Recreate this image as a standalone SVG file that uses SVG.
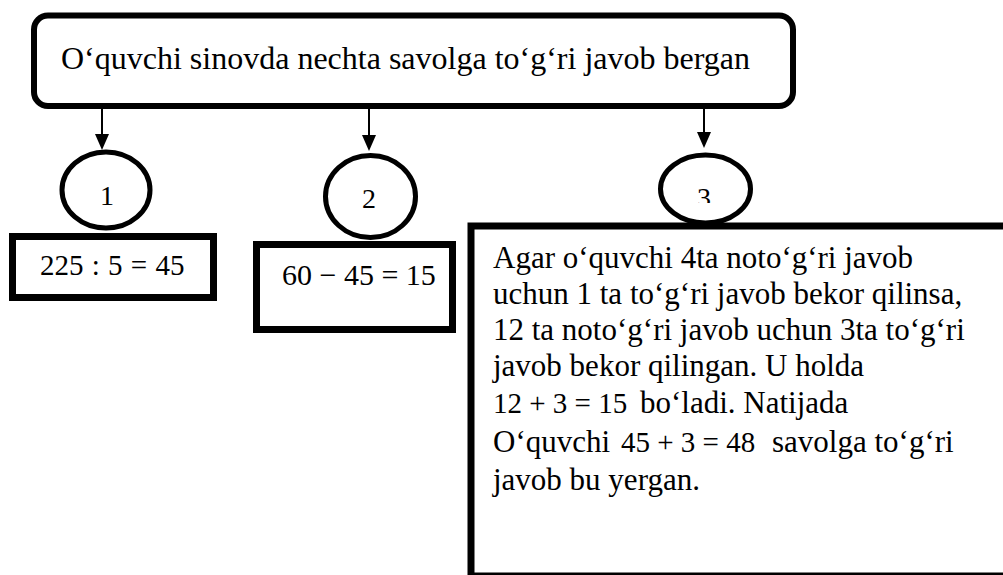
<svg xmlns="http://www.w3.org/2000/svg" width="1003" height="575" viewBox="0 0 1003 575">
<style>
.node{fill:#fff;stroke:#000}
.conn{stroke:#000;stroke-width:2;fill:none}
</style>
<defs>
<clipPath id="clip3"><rect x="650" y="150" width="110" height="53"/></clipPath>
</defs>
<rect width="1003" height="575" fill="#fff"/>
<g id="top">
<rect class="node" x="34" y="15.5" width="759" height="90.5" rx="14" stroke-width="6"/>
<text font-family="Liberation Serif" x="61" y="69" font-size="32">O‘quvchi sinovda nechta savolga to‘g‘ri javob bergan</text>
</g>
<g id="connectors">
<line class="conn" x1="102" y1="109" x2="102" y2="134"/>
<path d="M95,134 L109,134 L102,150 Z" fill="#000"/>
<line class="conn" x1="369" y1="109" x2="369" y2="135"/>
<path d="M362,135 L376,135 L369,151 Z" fill="#000"/>
<line class="conn" x1="704" y1="109" x2="704" y2="132"/>
<path d="M697,132 L711,132 L704,148 Z" fill="#000"/>
</g>
<g id="circle1">
<ellipse class="node" cx="106" cy="190" rx="44" ry="38" stroke-width="5"/>
<text font-family="Liberation Serif" x="107" y="205" font-size="28" text-anchor="middle">1</text>
</g>
<g id="circle2">
<ellipse class="node" cx="370.5" cy="196.5" rx="45" ry="41" stroke-width="5"/>
<text font-family="Liberation Serif" x="369" y="208" font-size="28" text-anchor="middle">2</text>
</g>
<g id="circle3">
<ellipse class="node" cx="705.5" cy="189" rx="45" ry="34" stroke-width="5"/>
<text font-family="Liberation Serif" x="704" y="207" font-size="28" text-anchor="middle" clip-path="url(#clip3)">3</text>
</g>
<g id="box1">
<rect class="node" x="12.5" y="236.5" width="201" height="61" stroke-width="7"/>
<text font-family="Liberation Serif" x="40" y="275" font-size="29" word-spacing="1">225 : 5 = 45</text>
</g>
<g id="box2">
<rect class="node" x="256.5" y="244.5" width="196" height="85" stroke-width="7"/>
<text font-family="Liberation Serif" x="282" y="285" font-size="30">60 − 45 = 15</text>
</g>
<g id="box3">
<rect class="node" x="471" y="226" width="600" height="350" stroke-width="7"/>
<text font-family="Liberation Serif" font-size="31" x="493" y="268">Agar o‘quvchi 4ta noto‘g‘ri javob</text>
<text font-family="Liberation Serif" font-size="31" x="493" y="304">uchun 1 ta to‘g‘ri javob bekor qilinsa,</text>
<text font-family="Liberation Serif" font-size="31" x="493" y="340">12 ta noto‘g‘ri javob uchun 3ta to‘g‘ri</text>
<text font-family="Liberation Serif" font-size="31" x="493" y="376">javob bekor qilingan. U holda</text>
<text font-family="Liberation Serif" font-size="31" x="493" y="413"><tspan font-size="29">12 + 3 = 15</tspan><tspan x="640">bo‘ladi. Natijada</tspan></text>
<text font-family="Liberation Serif" font-size="31" x="493" y="452">O‘quvchi<tspan x="621" font-size="29">45 + 3 = 48</tspan><tspan x="772">savolga to‘g‘ri</tspan></text>
<text font-family="Liberation Serif" font-size="31" x="493" y="490">javob bu yergan.</text>
</g>
</svg>
